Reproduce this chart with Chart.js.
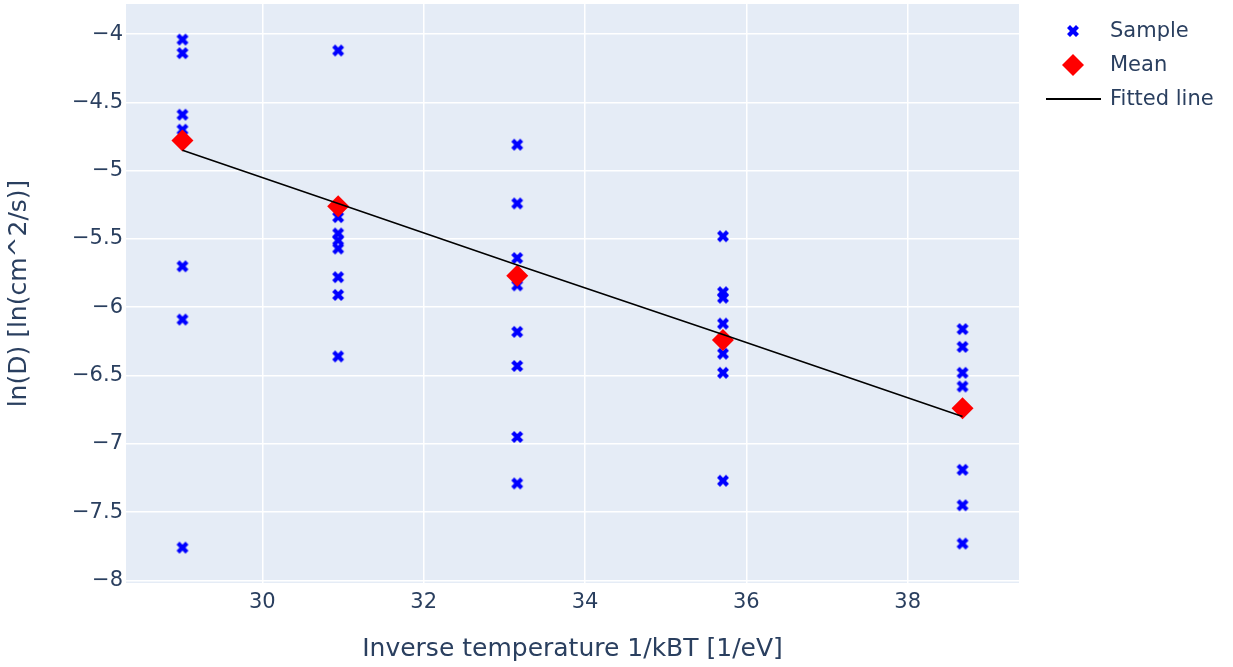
<!DOCTYPE html>
<html>
<head>
<meta charset="utf-8">
<script src="https://cdn.jsdelivr.net/npm/chart.js@4.4.1/dist/chart.umd.min.js"></script>
<style>
  html, body { margin: 0; padding: 0; background: #fff; }
  #wrap { width: 1233px; height: 667px; position: relative; }
</style>
</head>
<body>
<div id="wrap"><canvas id="myChart"></canvas></div>
<script>
  // inverse temperature 1/kBT for each run temperature
  const invTemp = [29.01, 30.94, 33.16, 35.71, 38.68];

  // ln(D) of every sample, one list per temperature
  const samplesT1 = [-4.04, -4.14, -4.59, -4.70, -5.70, -6.09, -7.76];
  const samplesT2 = [-4.12, -5.34, -5.46, -5.51, -5.57, -5.78, -5.91, -6.36];
  const samplesT3 = [-4.81, -5.24, -5.64, -5.84, -6.18, -6.43, -6.95, -7.29];
  const samplesT4 = [-5.48, -5.89, -5.93, -6.12, -6.34, -6.48, -7.27];
  const samplesT5 = [-6.16, -6.29, -6.48, -6.58, -7.19, -7.45, -7.73];

  const meanLnD = [-4.78, -5.26, -5.77, -6.24, -6.74];
  const fittedLnD = [-4.85, -5.24, -5.69, -6.20, -6.80];

  const xTicks = [30, 32, 34, 36, 38];
  const yTicks = [-4, -4.5, -5, -5.5, -6, -6.5, -7, -7.5, -8];

  const fontFamily = '"DejaVu Sans", Verdana, sans-serif';
  const textColor = '#2a3f5f';

  const sampleGroups = [samplesT1, samplesT2, samplesT3, samplesT4, samplesT5];
  const samplePoints = [];
  sampleGroups.forEach((group, i) => {
    group.forEach(v => samplePoints.push({x: invTemp[i], y: v}));
  });
  const meanPoints = invTemp.map((x, i) => ({x: x, y: meanLnD[i]}));
  const fitPoints = invTemp.map((x, i) => ({x: x, y: fittedLnD[i]}));

  // plotly-like filled "x" marker
  function xMarker(rx, color) {
    const c = document.createElement('canvas');
    const s = Math.ceil(rx * 4 + 2);
    c.width = s; c.height = s;
    const g = c.getContext('2d');
    g.translate(s / 2, s / 2);
    g.fillStyle = color;
    g.beginPath();
    const pts = [[0, rx], [rx, 2 * rx], [2 * rx, rx], [rx, 0], [2 * rx, -rx], [rx, -2 * rx],
      [0, -rx], [-rx, -2 * rx], [-2 * rx, -rx], [-rx, 0], [-2 * rx, rx], [-rx, 2 * rx]];
    pts.forEach((p, i) => i ? g.lineTo(p[0], p[1]) : g.moveTo(p[0], p[1]));
    g.closePath();
    g.fill();
    return c;
  }
  const xIcon = xMarker(3, '#0000ff');

  const plotBg = {
    id: 'plotBg',
    beforeDraw(chart) {
      const {ctx, chartArea: a} = chart;
      ctx.save();
      ctx.fillStyle = '#E5ECF6';
      ctx.fillRect(a.left, a.top, a.right - a.left, a.bottom - a.top);
      ctx.restore();
    }
  };

  const sideLegend = {
    id: 'sideLegend',
    afterDraw(chart) {
      const ctx = chart.ctx;
      const rows = [32, 66, 100];
      ctx.save();
      ctx.font = '21px ' + fontFamily;
      ctx.fillStyle = textColor;
      ctx.textBaseline = 'middle';
      chart.data.datasets.forEach((ds, i) => {
        const y = rows[i];
        if (ds.showLine) {
          ctx.strokeStyle = ds.borderColor;
          ctx.lineWidth = 2;
          ctx.beginPath();
          ctx.moveTo(1046, y - 1);
          ctx.lineTo(1101, y - 1);
          ctx.stroke();
        } else if (ds.pointStyle === 'rectRot') {
          ctx.fillStyle = ds.backgroundColor;
          ctx.beginPath();
          ctx.moveTo(1073 - 11, y - 1);
          ctx.lineTo(1073, y - 12);
          ctx.lineTo(1073 + 11, y - 1);
          ctx.lineTo(1073, y + 10);
          ctx.closePath();
          ctx.fill();
        } else {
          ctx.drawImage(xIcon, 1073 - xIcon.width / 2, y - 1 - xIcon.height / 2);
        }
        ctx.fillStyle = textColor;
        ctx.fillText(ds.label, 1110, y);
      });
      ctx.restore();
    }
  };

  const minus = v => (v < 0 ? '\u2212' : '') + Math.abs(v);

  const config = {
    type: 'scatter',
    data: {
      datasets: [{
        label: 'Sample',
        data: samplePoints,
        pointStyle: xIcon,
        backgroundColor: '#0000ff',
        borderColor: '#0000ff',
        order: 3
      }, {
        label: 'Mean',
        data: meanPoints,
        pointStyle: 'rectRot',
        pointRadius: 11,
        pointHoverRadius: 11,
        borderWidth: 0,
        backgroundColor: '#ff0000',
        borderColor: '#ff0000',
        order: 2
      }, {
        label: 'Fitted line',
        data: fitPoints,
        showLine: true,
        pointRadius: 0,
        borderColor: '#000000',
        borderWidth: 1.6,
        order: 1
      }]
    },
    options: {
      responsive: true,
      maintainAspectRatio: false,
      animation: false,
      layout: { autoPadding: false, padding: { top: 4, right: 214, bottom: 0, left: 0 } },
      plugins: {
        legend: { display: false },
        tooltip: { enabled: false }
      },
      scales: {
        x: {
          type: 'linear',
          min: 28.31,
          max: 39.38,
          afterFit: s => { s.height = 84; s.paddingLeft = 0; s.paddingRight = 0; },
          afterBuildTicks: s => { s.ticks = xTicks.map(v => ({value: v})); },
          border: { display: false },
          grid: { color: '#ffffff', lineWidth: 1.5, drawTicks: false },
          ticks: {
            padding: 7,
            color: textColor,
            font: { family: fontFamily, size: 21 }
          },
          title: {
            display: true,
            text: 'Inverse temperature 1/kBT [1/eV]',
            color: textColor,
            font: { family: fontFamily, size: 25 },
            padding: { top: 0, bottom: 3 }
          }
        },
        y: {
          type: 'linear',
          min: -8.019,
          max: -3.78,
          afterFit: s => { s.width = 126; s.paddingTop = 0; s.paddingBottom = 0; },
          afterBuildTicks: s => { s.ticks = yTicks.map(v => ({value: v})); },
          border: { display: false },
          grid: { color: '#ffffff', lineWidth: 1.5, drawTicks: false },
          ticks: {
            padding: 3,
            color: textColor,
            font: { family: fontFamily, size: 21 },
            callback: v => minus(v)
          },
          title: {
            display: true,
            text: 'ln(D) [ln(cm^2/s)]',
            color: textColor,
            font: { family: fontFamily, size: 25 },
            padding: { top: 4, bottom: 0 }
          }
        }
      }
    },
    plugins: [plotBg, sideLegend]
  };

  const myChart = new Chart(
    document.getElementById('myChart'),
    config
  );
</script>
</body>
</html>
